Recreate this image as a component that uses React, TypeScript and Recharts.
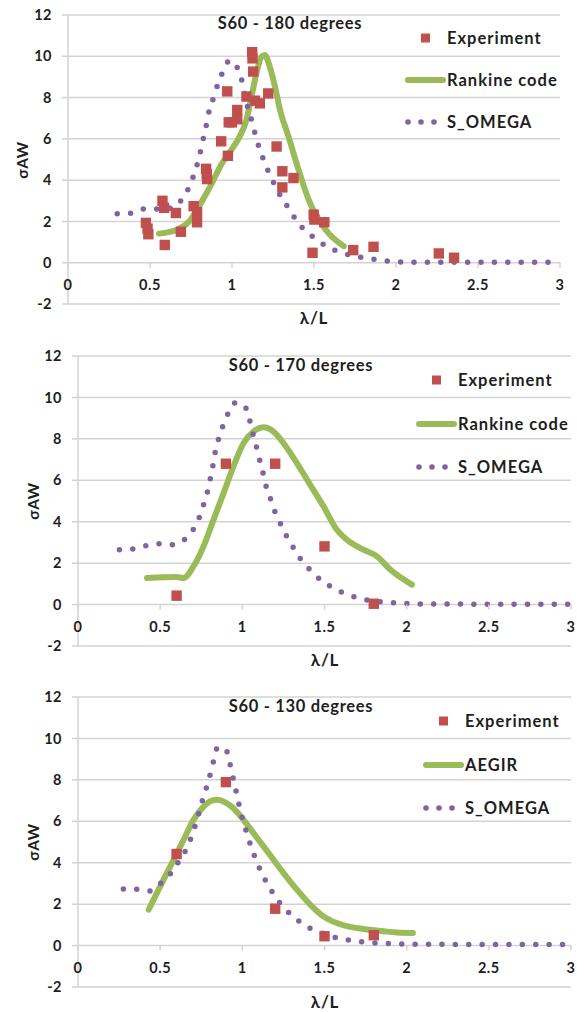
import React from 'react';
import { ComposedChart, Line, Scatter, XAxis, YAxis, CartesianGrid } from 'recharts';

type P = [number, number];

// ---------- Chart 1 : S60 - 180 degrees ----------
const exp180: P[] = [
  [0.475, 1.93], [0.485, 1.65], [0.49, 1.38], [0.576, 3.0], [0.586, 2.66], [0.59, 0.86],
  [0.658, 2.41], [0.688, 1.5], [0.766, 2.74], [0.787, 2.45], [0.787, 1.96], [0.842, 4.55],
  [0.846, 4.3], [0.848, 4.05], [0.934, 5.88], [0.975, 5.18], [0.971, 8.3], [0.98, 6.8],
  [1.0, 6.8], [1.032, 7.4], [1.032, 6.95], [1.088, 8.05], [1.123, 10.2], [1.125, 9.9],
  [1.129, 9.26], [1.14, 7.85], [1.17, 7.72], [1.221, 8.2], [1.272, 5.63], [1.307, 4.43],
  [1.307, 3.65], [1.375, 4.1], [1.498, 2.33], [1.502, 2.09], [1.563, 1.96], [1.491, 0.48],
  [1.739, 0.61], [1.863, 0.77], [2.261, 0.45], [2.354, 0.24],
];
const rankine180: P[] = [
  [0.555, 1.41], [0.668, 1.61], [0.74, 2.01], [0.811, 2.9], [0.873, 3.78], [0.934, 4.75],
  [0.996, 5.47], [1.047, 6.12], [1.088, 6.92], [1.119, 8.05], [1.149, 9.18], [1.18, 9.98],
  [1.2, 10.06], [1.23, 9.5], [1.262, 8.53], [1.293, 7.4], [1.344, 6.12], [1.406, 4.5],
  [1.467, 3.06], [1.57, 1.61], [1.682, 0.8],
];
const omega180: P[] = [
  [0.3, 2.37], [0.385, 2.4], [0.463, 2.6], [0.545, 2.6], [0.63, 2.64], [0.694, 3.06],
  [0.736, 3.62], [0.766, 4.22], [0.791, 4.86], [0.811, 5.5], [0.828, 6.12], [0.846, 6.76],
  [0.862, 7.41], [0.889, 8.02], [0.914, 8.66], [0.945, 9.26], [0.985, 9.79], [1.037, 9.37],
  [1.063, 8.73], [1.08, 8.1], [1.098, 7.44], [1.122, 6.84], [1.143, 6.17], [1.166, 5.56],
  [1.194, 4.96], [1.225, 4.35], [1.262, 3.75], [1.299, 3.19], [1.344, 2.66], [1.389, 2.09],
  [1.443, 1.57], [1.507, 1.18], [1.574, 0.8], [1.653, 0.53], [1.727, 0.35], [1.811, 0.23],
  [1.896, 0.13], [1.98, 0.06], [2.06, 0.03], [2.3, 0.02], [2.6, 0.02], [3.0, 0.02],
];

// ---------- Chart 2 : S60 - 170 degrees ----------
const exp170: P[] = [[0.6, 0.43], [0.9, 6.8], [1.2, 6.8], [1.5, 2.81], [1.8, 0.04]];
const rankine170: P[] = [
  [0.42, 1.28], [0.52, 1.32], [0.6, 1.33], [0.642, 1.28], [0.703, 1.85], [0.764, 2.81],
  [0.825, 4.1], [0.886, 5.38], [0.946, 6.67], [1.007, 7.79], [1.068, 8.35], [1.129, 8.56],
  [1.19, 8.35], [1.251, 7.79], [1.332, 6.83], [1.413, 5.78], [1.494, 4.74], [1.575, 3.61],
  [1.636, 3.13], [1.737, 2.65], [1.819, 2.33], [1.9, 1.69], [2.032, 0.96],
];
const omega170: P[] = [
  [0.252, 2.65], [0.328, 2.68], [0.41, 2.84], [0.49, 2.94], [0.572, 2.89], [0.647, 3.13],
  [0.7, 3.61], [0.738, 4.21], [0.764, 4.82], [0.788, 5.46], [0.805, 6.07], [0.821, 6.71],
  [0.835, 7.36], [0.855, 7.98], [0.882, 8.63], [0.912, 9.2], [0.959, 9.75], [1.018, 9.53],
  [1.044, 8.92], [1.064, 8.27], [1.085, 7.63], [1.105, 6.99], [1.125, 6.38], [1.144, 5.73],
  [1.17, 5.14], [1.196, 4.53], [1.23, 3.94], [1.267, 3.34], [1.308, 2.78], [1.352, 2.22],
  [1.407, 1.72], [1.468, 1.25], [1.535, 0.88], [1.606, 0.59], [1.683, 0.37], [1.764, 0.21],
  [1.849, 0.13], [1.93, 0.08], [2.011, 0.05], [2.1, 0.03], [2.5, 0.02], [3.0, 0.02],
];

// ---------- Chart 3 : S60 - 130 degrees ----------
const exp130: P[] = [[0.6, 4.42], [0.9, 7.89], [1.2, 1.78], [1.5, 0.45], [1.8, 0.5]];
const aegir130: P[] = [
  [0.43, 1.73], [0.5, 2.86], [0.582, 4.14], [0.643, 5.11], [0.703, 6.07], [0.764, 6.71],
  [0.815, 7.0], [0.849, 7.04], [0.896, 6.91], [0.946, 6.63], [1.007, 6.07], [1.068, 5.43],
  [1.129, 4.79], [1.19, 4.14], [1.251, 3.5], [1.332, 2.7], [1.413, 1.98], [1.494, 1.41],
  [1.575, 1.09], [1.656, 0.9], [1.737, 0.8], [1.859, 0.69], [1.94, 0.63], [2.038, 0.61],
];
const omega130: P[] = [
  [0.276, 2.73], [0.352, 2.72], [0.432, 2.63], [0.5, 2.99], [0.562, 3.46], [0.607, 3.99],
  [0.652, 4.55], [0.685, 5.14], [0.712, 5.76], [0.735, 6.38], [0.757, 7.01], [0.782, 7.64],
  [0.804, 8.26], [0.825, 8.91], [0.847, 9.53], [0.896, 9.53], [0.921, 8.91], [0.939, 8.26],
  [0.957, 7.64], [0.975, 6.98], [0.993, 6.35], [1.016, 5.72], [1.04, 5.1], [1.067, 4.47],
  [1.097, 3.87], [1.133, 3.26], [1.173, 2.7], [1.22, 2.14], [1.274, 1.66], [1.337, 1.22],
  [1.407, 0.85], [1.483, 0.61], [1.562, 0.4], [1.643, 0.27], [1.726, 0.18], [1.807, 0.13],
  [1.888, 0.1], [1.973, 0.08], [2.2, 0.06], [2.6, 0.05], [3.0, 0.05],
];

const xTicks = [0, 0.5, 1, 1.5, 2, 2.5, 3];
const yTicks = [-2, 0, 2, 4, 6, 8, 10, 12];
const titles = ['S60 - 180 degrees', 'S60 - 170 degrees', 'S60 - 130 degrees'];
const legend1 = ['Experiment', 'Rankine code', 'S_OMEGA'];
const legend3 = ['Experiment', 'AEGIR', 'S_OMEGA'];
const xTitle = 'λ/L';
const yTitle = 'σAW';

const RED = '#c0504d';
const GREEN = '#9bbb59';
const PURPLE = '#8064a2';
const GRID = '#d3d3d3';
const TXT = '#1e1e1e';
const FONT = 'Lato, "Open Sans", sans-serif';

const toObj = (a: P[]) => a.map(([x, y]) => ({ x, y }));

const Square = (props: any) => {
  const { cx, cy } = props;
  if (cx == null || cy == null) return null;
  return <rect x={cx - 5.2} y={cy - 5.2} width={10.4} height={10.4} fill={RED} />;
};

interface Cfg {
  top: number;
  height: number;
  mTop: number;
  mRight: number;
  mBottom: number;
  yW: number;
  xH: number;
  title: string;
  titleX: number;
  titleY: number;
  yLabX: number;
  xLabX: number;
  xLabY: number;
  legendX: number;
  legendY: number;
  legendStep: number;
  legend: string[];
  exp: P[];
  model: P[];
  omega: P[];
}

const configs: Cfg[] = [
  {
    top: 0, height: 340, mTop: 15, mRight: 17, mBottom: 6, yW: 68, xH: 30,
    title: titles[0], titleX: 290, titleY: 23, yLabX: 22, xLabX: 314, xLabY: 318,
    legendX: 407, legendY: 38, legendStep: 42, legend: legend1,
    exp: exp180, model: rankine180, omega: omega180,
  },
  {
    top: 340, height: 341, mTop: 16, mRight: 6, mBottom: 5, yW: 78, xH: 30,
    title: titles[1], titleX: 301, titleY: 25, yLabX: 33, xLabX: 325, xLabY: 320,
    legendX: 418, legendY: 40, legendStep: 43.5, legend: legend1,
    exp: exp170, model: rankine170, omega: omega170,
  },
  {
    top: 681, height: 331, mTop: 16, mRight: 6, mBottom: 0, yW: 78, xH: 25,
    title: titles[2], titleX: 301, titleY: 25, yLabX: 33, xLabX: 325, xLabY: 321,
    legendX: 425, legendY: 40, legendStep: 43.5, legend: legend3,
    exp: exp130, model: aegir130, omega: omega130,
  },
];

const XTick = (props: any) => {
  const { x, payload, zeroY } = props;
  return (
    <g>
      <line x1={x} x2={x} y1={zeroY} y2={zeroY + 5} stroke={GRID} strokeWidth={1.5} />
      <text
        x={x}
        y={zeroY + 27}
        textAnchor="middle"
        fontFamily={FONT}
        fontWeight="bold"
        fontSize={14.5}
        letterSpacing={0.5}
        fill={TXT}
      >
        {String(payload.value)}
      </text>
    </g>
  );
};

const LegendIcon = ({ kind }: { kind: number }) => (
  <svg width={42} height={20} style={{ display: 'block' }}>
    {kind === 0 && <rect x={16} y={5.5} width={9} height={9} fill={RED} />}
    {kind === 1 && <line x1={3} x2={38} y1={10} y2={10} stroke={GREEN} strokeWidth={6} strokeLinecap="round" />}
    {kind === 2 && [3, 16, 29].map((cx) => <circle key={cx} cx={cx} cy={10} r={2.8} fill={PURPLE} />)}
  </svg>
);

const Panel = ({ c }: { c: Cfg }) => {
  const plotTop = c.mTop;
  const plotBottom = c.height - c.mBottom - c.xH;
  const plotH = plotBottom - plotTop;
  const zeroY = plotTop + (plotH * 12) / 14;
  const yMid = (plotTop + plotBottom) / 2;
  return (
    <div style={{ position: 'absolute', left: 0, top: c.top, width: 577, height: c.height }}>
      <ComposedChart
        width={577}
        height={c.height}
        margin={{ top: c.mTop, right: c.mRight, bottom: c.mBottom, left: 0 }}
      >
        <CartesianGrid horizontal vertical={false} stroke={GRID} strokeWidth={1.5} />
        <XAxis
          type="number"
          dataKey="x"
          domain={[0, 3]}
          ticks={xTicks}
          interval={0}
          allowDataOverflow
          height={c.xH}
          axisLine={false}
          tickLine={false}
          tick={(p: any) => <XTick {...p} zeroY={zeroY} />}
        />
        <YAxis
          type="number"
          domain={[-2, 12]}
          ticks={yTicks}
          interval={0}
          allowDataOverflow
          width={c.yW}
          axisLine={{ stroke: GRID, strokeWidth: 1.5 }}
          tickLine={{ stroke: GRID, strokeWidth: 1.5 }}
          tickSize={6}
          tickMargin={10}
          tick={{ fontFamily: FONT, fontWeight: 'bold', fontSize: 14.5, fill: TXT, letterSpacing: 0.5 }}
        />
        <Scatter data={toObj(c.exp)} dataKey="y" shape={Square} isAnimationActive={false} />
        <Line
          data={toObj(c.model)}
          dataKey="y"
          type="monotone"
          stroke={GREEN}
          strokeWidth={6}
          strokeLinecap="round"
          strokeLinejoin="round"
          dot={false}
          activeDot={false}
          isAnimationActive={false}
        />
        <Line
          data={toObj(c.omega)}
          dataKey="y"
          type="monotone"
          stroke={PURPLE}
          strokeWidth={5.5}
          strokeLinecap="round"
          strokeDasharray="0 13.4"
          dot={false}
          activeDot={false}
          isAnimationActive={false}
        />
      </ComposedChart>

      <div
        style={{
          position: 'absolute', left: c.titleX - 150, width: 300, top: c.titleY - 10.5,
          textAlign: 'center', fontFamily: FONT, fontWeight: 'bold', fontSize: 16.5,
          letterSpacing: 0.7, lineHeight: '20px', color: TXT, whiteSpace: 'nowrap',
        }}
      >
        {c.title}
      </div>

      <div
        style={{
          position: 'absolute', left: c.yLabX - 40, width: 80, top: yMid - 10,
          textAlign: 'center', fontFamily: FONT, fontWeight: 'bold', fontSize: 15.5,
          letterSpacing: 0.5, lineHeight: '20px', color: TXT, transform: 'rotate(-90deg)', whiteSpace: 'nowrap',
        }}
      >
        {yTitle}
      </div>

      <div
        style={{
          position: 'absolute', left: c.xLabX - 40, width: 80, top: c.xLabY - 11,
          textAlign: 'center', fontFamily: FONT, fontWeight: 'bold', fontSize: 17,
          letterSpacing: 0.8, lineHeight: '22px', color: TXT, whiteSpace: 'nowrap',
        }}
      >
        {xTitle}
      </div>

      {c.legend.map((name, i) => (
        <div
          key={name}
          style={{
            position: 'absolute', left: c.legendX - 2, top: c.legendY + i * c.legendStep - 10,
            height: 20, display: 'flex', alignItems: 'center', whiteSpace: 'nowrap',
          }}
        >
          <LegendIcon kind={i} />
          <span
            style={{
              fontFamily: FONT, fontWeight: 'bold', fontSize: 16.5, letterSpacing: 1,
              lineHeight: '20px', color: TXT,
            }}
          >
            {name}
          </span>
        </div>
      ))}
    </div>
  );
};

export default function App() {
  return (
    <div style={{ position: 'absolute', left: 0, top: 0, width: 577, height: 1012, background: '#fff', overflow: 'hidden' }}>
      {configs.map((c, i) => (
        <Panel key={i} c={c} />
      ))}
    </div>
  );
}
